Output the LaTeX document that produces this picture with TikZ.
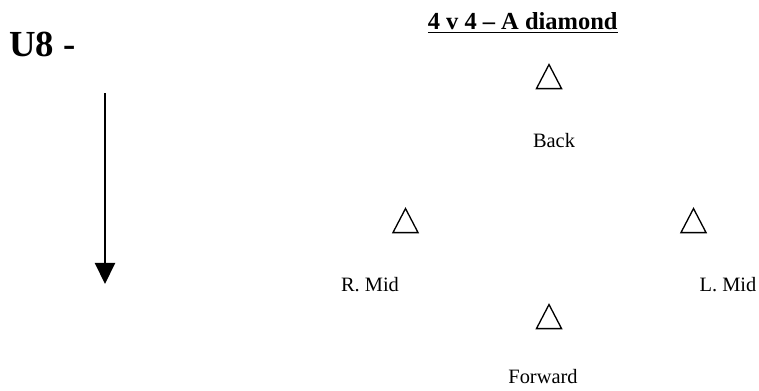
\documentclass[tikz,border=0pt]{standalone}
\usepackage{fontspec}
\setmainfont{Liberation Serif}
\usetikzlibrary{arrows.meta,shapes.geometric}

\begin{document}
\begin{tikzpicture}[x=0.49pt,y=-0.49pt,
	player/.style={isosceles triangle,isosceles triangle stretches,shape border rotate=90,
		draw,line width=0.65pt,inner sep=0pt,minimum width=12.3pt,minimum height=11.8pt},
	role/.style={font=\fontsize{10}{12}\selectfont,anchor=base,inner sep=0pt}
	]
	\useasboundingbox (0,0) rectangle (759,390);

	\node[font=\bfseries\fontsize{18}{22}\selectfont,anchor=base west,inner sep=0pt] (age) at (9,56) {U8 -};
	\node[font=\bfseries\fontsize{12}{14}\selectfont,anchor=base east,inner sep=0pt] (title) at (618,29) {\underline{4 v 4 -- A diamond}};

	% direction of play
	\coordinate (dirtop) at (105,93);
	\coordinate (dirtip) at (105,284);
	\draw[line width=1pt,-{Triangle[width=9.8pt,length=10.3pt]}] (dirtop) -- (dirtip);

	\node[player] (back) at (549,81) {};
	\node[role] (backlbl) at (554,147.5) {Back};

	\node[player] (rmid) at (405.5,225) {};
	\node[role] (rmidlbl) at (370,291) {R. Mid};

	\node[player] (lmid) at (693.5,225) {};
	\node[role] (lmidlbl) at (728,291) {L. Mid};

	\node[player] (fwd) at (549,321) {};
	\node[role] (fwdlbl) at (543,383) {Forward};

\end{tikzpicture}
\end{document}
